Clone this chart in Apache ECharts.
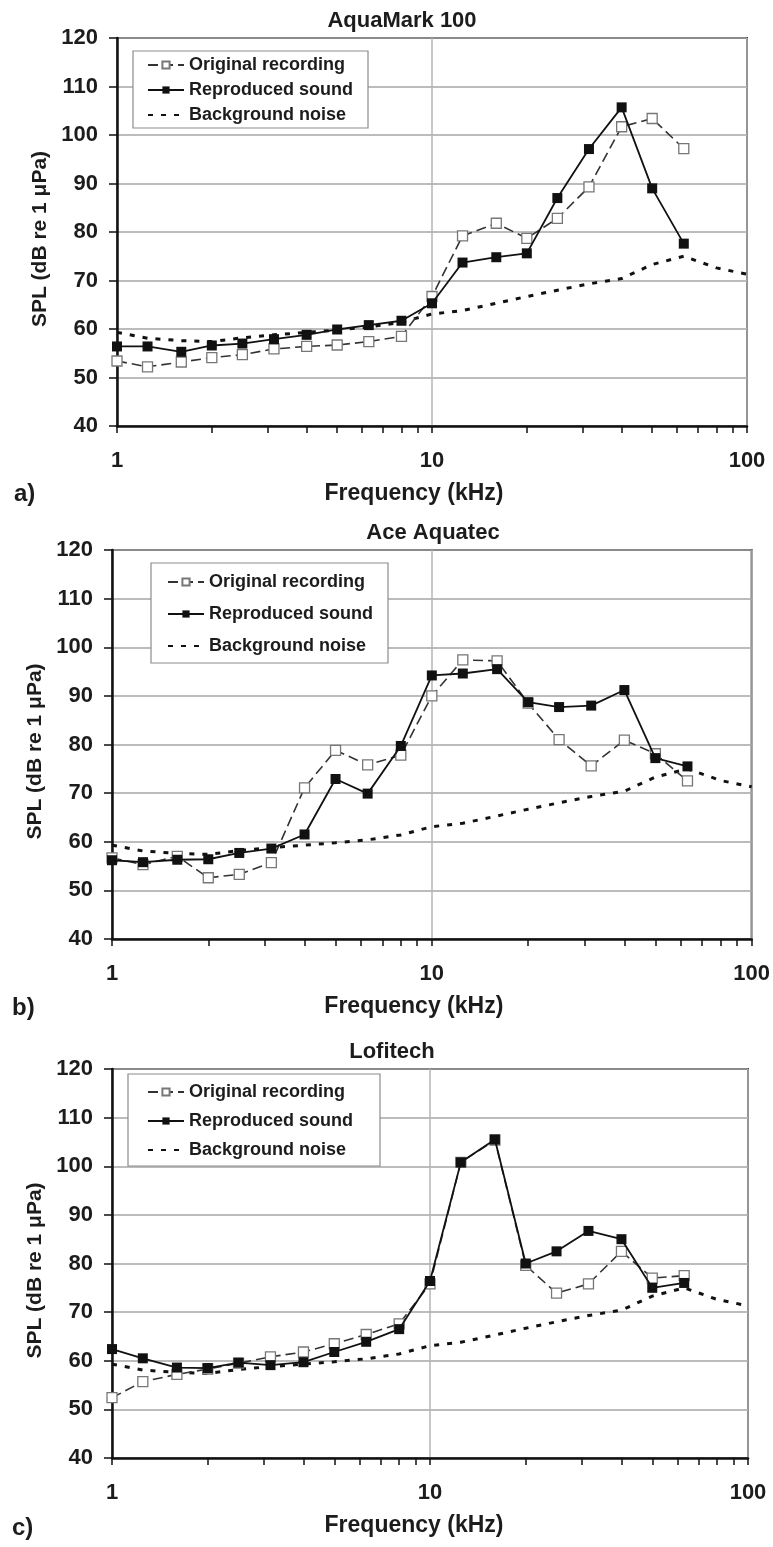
<!DOCTYPE html>
<html>
<head>
<meta charset="utf-8">
<script src="https://cdn.jsdelivr.net/npm/echarts@6/dist/echarts.min.js"></script>
<style>
  html, body { margin: 0; padding: 0; background: #fff; }
  #chart { width: 773px; height: 1547px; }
</style>
</head>
<body>
<div id="chart"></div>
<script>
// third-octave band centre frequencies (kHz)
const freq = [1, 1.25, 1.6, 2, 2.5, 3.15, 4, 5, 6.3, 8, 10, 12.5, 16, 20, 25, 31.5, 40, 50, 63];
const noiseFreq = [1, 1.25, 1.6, 2, 2.5, 3.15, 4, 5, 6.3, 8, 10, 12.5, 16, 20, 25, 31.5, 40, 50, 63, 80, 100];

const backgroundNoise = [59.3, 58.1, 57.6, 57.4, 58.2, 58.8, 59.3, 59.8, 60.4, 61.4, 63.1, 63.8, 65.3, 66.7, 68.0, 69.3, 70.4, 73.3, 75.0, 72.6, 71.3];

const aquaOriginal   = [53.4, 52.2, 53.2, 54.1, 54.7, 55.9, 56.4, 56.7, 57.4, 58.5, 66.7, 79.2, 81.8, 78.7, 82.8, 89.3, 101.7, 103.4, 97.2];
const aquaReproduced = [56.4, 56.4, 55.3, 56.6, 57.0, 57.9, 58.8, 59.9, 60.8, 61.7, 65.3, 73.7, 74.8, 75.6, 87.0, 97.1, 105.7, 89.0, 77.6];

const aceOriginal   = [56.7, 55.3, 57.0, 52.6, 53.3, 55.7, 71.1, 78.8, 75.8, 77.8, 90.0, 97.4, 97.2, 88.5, 81.0, 75.6, 80.9, 78.1, 72.5];
const aceReproduced = [56.2, 55.8, 56.3, 56.4, 57.7, 58.6, 61.5, 72.9, 69.9, 79.7, 94.2, 94.6, 95.5, 88.7, 87.7, 88.0, 91.2, 77.2, 75.5];

const lofiOriginal   = [52.4, 55.7, 57.2, 58.3, 59.5, 60.8, 61.8, 63.5, 65.4, 67.6, 75.8, 100.8, 105.4, 79.6, 73.9, 75.8, 82.5, 77.0, 77.5];
const lofiReproduced = [62.4, 60.5, 58.6, 58.5, 59.6, 59.1, 59.7, 61.8, 63.9, 66.5, 76.4, 100.8, 105.5, 80.0, 82.5, 86.7, 85.0, 75.0, 76.0];

const panelTitles = ['AquaMark 100', 'Ace Aquatec', 'Lofitech'];
const panelLetters = ['a)', 'b)', 'c)'];
const seriesNames = ['Original recording', 'Reproduced sound', 'Background noise'];

const FONT = '"Liberation Sans", Arial, sans-serif';
const INK = '#1c1c1c';

const pairs = (xs, ys) => ys.map((y, i) => [xs[i], y]);

const panels = [
  { original: aquaOriginal, reproduced: aquaReproduced,
    grid: { left: 117, top: 38, width: 630, height: 388 },
    legend: { left: 133, top: 51, itemGap: 7, padding: [5, 15, 4, 14] },
    title: [402, 21], letter: [14, 494], nameShift: 36 },
  { original: aceOriginal, reproduced: aceReproduced,
    grid: { left: 112, top: 550, width: 640, height: 389 },
    legend: { left: 151, top: 563, itemGap: 14, padding: [10, 15, 8, 16] },
    title: [433, 533], letter: [12, 1008], nameShift: 36 },
  { original: lofiOriginal, reproduced: lofiReproduced,
    grid: { left: 112, top: 1069, width: 636, height: 389 },
    legend: { left: 128, top: 1074, itemGap: 11, padding: [9, 27, 7, 19] },
    title: [392, 1052], letter: [12, 1528], nameShift: 32 }
];

const chart = echarts.init(document.getElementById('chart'));

const option = {
  animation: false,
  backgroundColor: '#fff',
  grid: panels.map(p => Object.assign({
    show: true, borderColor: '#3a3a3a', borderWidth: 2, containLabel: false
  }, p.grid)),
  xAxis: panels.map((p, i) => ({
    type: 'log',
    logBase: 10,
    gridIndex: i,
    min: 1,
    max: 100,
    name: 'Frequency (kHz)',
    nameLocation: 'middle',
    nameGap: 56,
    nameTextStyle: {
      fontFamily: FONT, fontWeight: 'bold', fontSize: 23, color: INK,
      padding: [0, p.nameShift, 0, 0]
    },
    axisLine: { onZero: false, lineStyle: { color: '#111', width: 2.5 } },
    axisTick: { show: true, length: 7, lineStyle: { color: '#111', width: 1.5 } },
    minorTick: { show: true, splitNumber: 9, length: 7, lineStyle: { color: '#111', width: 1.5 } },
    axisLabel: { fontFamily: FONT, fontWeight: 'bold', fontSize: 22, color: INK, margin: 24 },
    splitLine: { show: true, lineStyle: { color: '#b4b4b4', width: 1.5 } },
    minorSplitLine: { show: false }
  })),
  yAxis: panels.map((p, i) => ({
    type: 'value',
    gridIndex: i,
    min: 40,
    max: 120,
    interval: 10,
    name: 'SPL (dB re 1 μPa)',
    nameLocation: 'middle',
    nameGap: i === 0 ? 64 : 59,
    nameTextStyle: {
      fontFamily: FONT, fontWeight: 'bold', fontSize: 21, color: INK,
      padding: [0, 14, 0, 0]
    },
    axisLine: { show: true, lineStyle: { color: '#111', width: 2.5 } },
    axisTick: { show: true, length: 8, lineStyle: { color: '#111', width: 1.5 } },
    axisLabel: { fontFamily: FONT, fontWeight: 'bold', fontSize: 22, color: INK, margin: 19 },
    splitLine: { show: true, lineStyle: { color: '#a6a6a6', width: 1.5 } }
  })),
  legend: panels.map(p => Object.assign({
    orient: 'vertical',
    data: [
      { name: seriesNames[0] },
      { name: seriesNames[1] },
      { name: seriesNames[2], itemStyle: { opacity: 0 } }
    ],
    itemWidth: 36,
    itemHeight: 9,
    backgroundColor: '#fff',
    borderColor: '#8c8c8c',
    borderWidth: 1.2,
    textStyle: { fontFamily: FONT, fontWeight: 'bold', fontSize: 18, color: INK }
  }, p.legend)),
  graphic: panels.flatMap((p, i) => [
    {
      type: 'text', x: p.title[0], y: p.title[1],
      style: {
        text: panelTitles[i], fill: INK, font: 'bold 22px ' + FONT,
        textAlign: 'center', textVerticalAlign: 'middle'
      }
    },
    {
      type: 'text', x: p.letter[0], y: p.letter[1],
      style: {
        text: panelLetters[i], fill: INK, font: 'bold 24px ' + FONT,
        textAlign: 'left', textVerticalAlign: 'middle'
      }
    }
  ]),
  series: panels.flatMap((p, i) => [
    {
      name: seriesNames[2], type: 'line',
      xAxisIndex: i, yAxisIndex: i, z: 2,
      data: pairs(noiseFreq, backgroundNoise),
      symbol: 'none',
      lineStyle: { color: '#111', width: 3, type: [5, 8] },
      itemStyle: { color: '#111' }
    },
    {
      name: seriesNames[0], type: 'line',
      xAxisIndex: i, yAxisIndex: i, z: 3,
      data: pairs(freq, p.original),
      symbol: 'rect', symbolSize: 10,
      lineStyle: { color: '#333', width: 1.6, type: [10, 5] },
      itemStyle: { color: '#fff', borderColor: '#777', borderWidth: 1.3 }
    },
    {
      name: seriesNames[1], type: 'line',
      xAxisIndex: i, yAxisIndex: i, z: 4,
      data: pairs(freq, p.reproduced),
      symbol: 'rect', symbolSize: 10,
      lineStyle: { color: '#111', width: 1.8 },
      itemStyle: { color: '#111' }
    }
  ])
};

chart.setOption(option);
</script>
</body>
</html>
